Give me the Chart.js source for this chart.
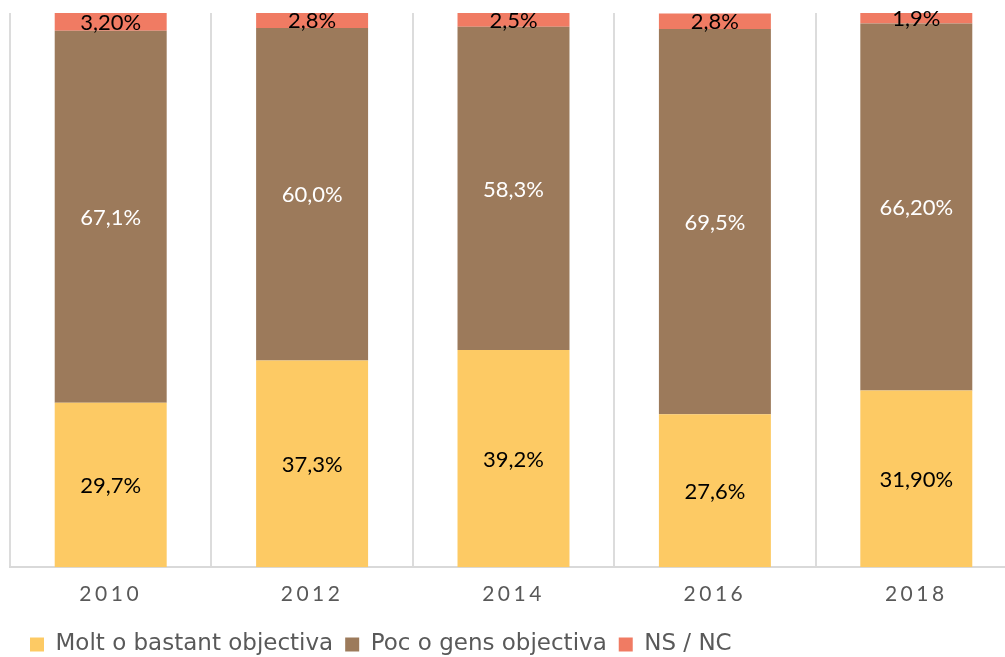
<!DOCTYPE html>
<html>
<head>
<meta charset="utf-8">
<script src="https://cdn.jsdelivr.net/npm/chart.js"></script>
<style>
  html, body { margin: 0; padding: 0; background: #fff; overflow: hidden; }
  #wrap { width: 1017px; height: 657px; }
</style>
</head>
<body>
<div id="wrap"><canvas id="myChart" width="1017" height="657"></canvas></div>
<script>
const years = ["2010", "2012", "2014", "2016", "2018"];
const molt = [29.7, 37.3, 39.2, 27.6, 31.9];
const poc = [67.1, 60.0, 58.3, 69.5, 66.2];
const nsnc = [3.2, 2.8, 2.5, 2.8, 1.9];
const moltText = ["29,7%", "37,3%", "39,2%", "27,6%", "31,90%"];
const pocText = ["67,1%", "60,0%", "58,3%", "69,5%", "66,20%"];
const nsncText = ["3,20%", "2,8%", "2,5%", "2,8%", "1,9%"];

const labelTexts = [moltText, pocText, nsncText];
const labelColors = ["#000000", "#ffffff", "#000000"];

// draws the value in the middle of each segment
const segmentLabels = {
  id: "segmentLabels",
  afterLayout(chart) {
    // legend starts a bit further in than the plot area
    chart.legend.left += 8;
  },
  afterDatasetsDraw(chart) {
    const ctx = chart.ctx;
    ctx.save();
    ctx.letterSpacing = "0px";
    ctx.font = "22px Lato";
    ctx.textAlign = "center";
    ctx.textBaseline = "middle";
    chart.data.datasets.forEach((ds, i) => {
      const meta = chart.getDatasetMeta(i);
      meta.data.forEach((bar, j) => {
        ctx.fillStyle = labelColors[i];
        ctx.fillText(labelTexts[i][j], bar.x, (bar.y + bar.base) / 2 + 1);
      });
    });
    ctx.restore();
    // x tick labels are drawn after this (ticks z = 1), spaced out
    ctx.letterSpacing = "3.5px";
  },
  afterDraw(chart) {
    chart.ctx.letterSpacing = "0px";
  }
};

const ctx = document.querySelector("#myChart").getContext("2d");

new Chart(ctx, {
  type: "bar",
  data: {
    labels: years,
    datasets: [
      { label: "Molt o bastant objectiva", data: molt, backgroundColor: "#fdca64" },
      { label: "Poc o gens objectiva", data: poc, backgroundColor: "#9c7a5b" },
      { label: "NS / NC", data: nsnc, backgroundColor: "#f07b63" }
    ]
  },
  options: {
    responsive: false,
    animation: false,
    categoryPercentage: 1,
    barPercentage: 0.556,
    layout: { padding: { left: 10, right: 0, top: 13, bottom: -9 } },
    scales: {
      x: {
        stacked: true,
        grid: { color: "#dcdcdc", lineWidth: 2, drawTicks: false, offset: true },
        border: { color: "#d9d9d9", width: 2 },
        ticks: {
          z: 1,
          color: "#595959",
          font: { family: "Lato", size: 21, lineHeight: 0.65 },
          padding: 20
        }
      },
      y: {
        stacked: true,
        display: false,
        min: 0,
        max: 100
      }
    },
    plugins: {
      tooltip: { enabled: false },
      legend: {
        position: "bottom",
        align: "start",
        labels: {
          color: "#595959",
          font: { family: "DejaVu Sans", size: 23 },
          boxWidth: 14,
          boxHeight: 14,
          padding: 12
        }
      }
    }
  },
  plugins: [segmentLabels]
});
</script>
</body>
</html>
